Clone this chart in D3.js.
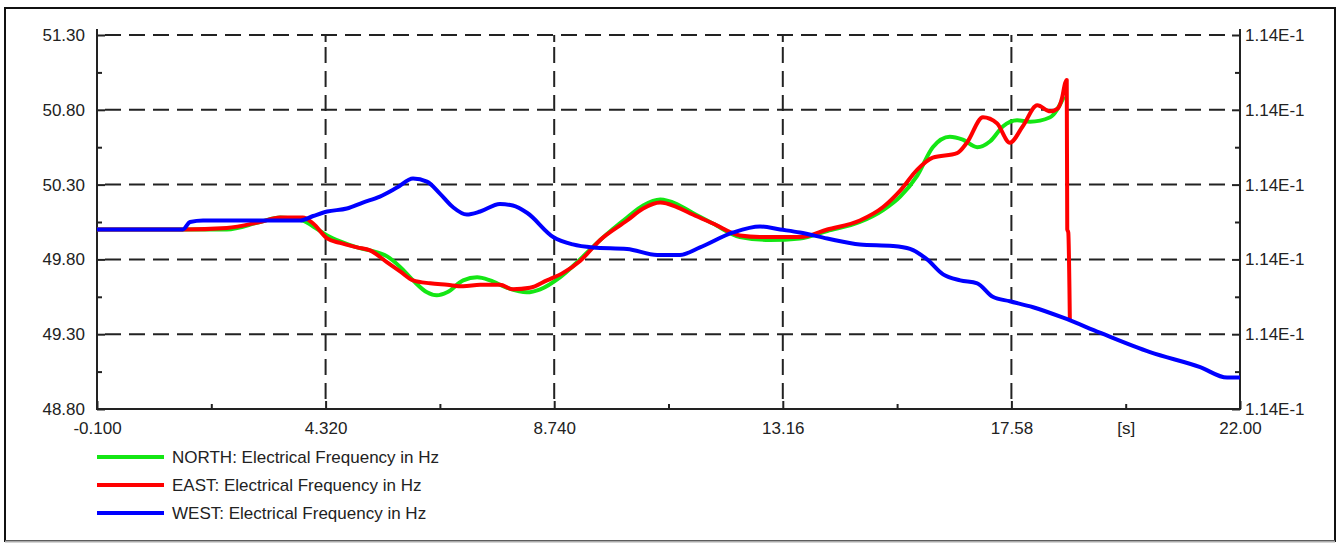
<!DOCTYPE html>
<html>
<head>
<meta charset="utf-8">
<script src="https://cdn.jsdelivr.net/npm/d3@7"></script>
<style>
  body { margin: 0; background: #fff; }
  text { font-family: "Liberation Sans", Arial, sans-serif; }
</style>
</head>
<body>
<div id="chart"></div>
<script>
// Time axis ticks (s) and their labels
const xTicks = [-0.1, 4.32, 8.74, 13.16, 17.58, 22.0];
const xTickLabels = ["-0.100", "4.320", "8.740", "13.16", "17.58", "22.00"];
const xMinor = [2.11, 6.53, 10.95, 15.37, 19.79];
const xUnit = "[s]";

// Frequency axis ticks (Hz)
const yTicks = [48.8, 49.3, 49.8, 50.3, 50.8, 51.3];
const yMinor = [49.05, 49.55, 50.05, 50.55, 51.05];
const rightLabel = "1.14E-1";

const seriesNames = [
  "NORTH: Electrical Frequency in Hz",
  "EAST: Electrical Frequency in Hz",
  "WEST: Electrical Frequency in Hz"
];
const seriesColors = ["#14e614", "#ff0000", "#0000ff"];

// NORTH
const northT = [-0.1, 1.56, 2.41, 3.05, 3.44, 3.88, 4.08, 4.35, 4.60, 4.93, 5.18, 5.51, 5.76, 6.01, 6.28, 6.47, 6.67, 6.98, 7.25, 7.50, 7.83, 8.21, 8.47, 8.85, 9.24, 9.63, 10.15, 10.46, 10.79, 11.11, 11.42, 11.81, 12.33, 12.91, 13.49, 14.02, 14.65, 15.10, 15.43, 15.76, 16.06, 16.39, 16.64, 16.92, 17.17, 17.42, 17.69, 17.94, 18.33, 18.60];
const northF = [50.00, 50.00, 50.00, 50.05, 50.08, 50.06, 50.02, 49.96, 49.92, 49.88, 49.86, 49.82, 49.75, 49.66, 49.58, 49.56, 49.58, 49.66, 49.68, 49.66, 49.61, 49.58, 49.60, 49.68, 49.80, 49.93, 50.08, 50.16, 50.20, 50.17, 50.11, 50.04, 49.95, 49.93, 49.94, 49.99, 50.05, 50.13, 50.22, 50.36, 50.55, 50.62, 50.60, 50.55, 50.59, 50.69, 50.73, 50.72, 50.75, 50.89];

// EAST
const eastT = [-0.1, 1.56, 2.41, 3.05, 3.44, 3.88, 4.08, 4.35, 4.60, 4.93, 5.18, 5.51, 5.76, 6.01, 6.34, 6.67, 6.98, 7.31, 7.69, 7.94, 8.27, 8.60, 8.91, 9.24, 9.63, 10.15, 10.46, 10.79, 11.11, 11.42, 11.81, 12.33, 12.72, 13.49, 14.02, 14.65, 15.10, 15.43, 15.76, 16.06, 16.53, 16.72, 17.03, 17.30, 17.55, 17.80, 18.08, 18.33, 18.48, 18.56, 18.62, 18.65, 18.66, 18.68, 18.71];
const eastF = [50.00, 50.00, 50.01, 50.05, 50.08, 50.08, 50.04, 49.94, 49.91, 49.88, 49.86, 49.78, 49.72, 49.66, 49.64, 49.63, 49.62, 49.63, 49.63, 49.60, 49.61, 49.66, 49.71, 49.79, 49.93, 50.06, 50.14, 50.18, 50.15, 50.10, 50.04, 49.96, 49.95, 49.95, 50.00, 50.06, 50.15, 50.26, 50.40, 50.48, 50.51, 50.58, 50.75, 50.71, 50.58, 50.69, 50.83, 50.79, 50.81, 50.88, 50.98, 51.00, 50.00, 49.98, 49.40];

// WEST
const westT = [-0.1, 1.56, 1.70, 1.95, 3.83, 4.08, 4.35, 4.73, 5.04, 5.37, 5.70, 6.01, 6.28, 6.53, 6.78, 7.05, 7.31, 7.69, 7.94, 8.22, 8.72, 9.10, 9.49, 10.15, 10.73, 11.17, 11.56, 12.20, 12.72, 13.11, 13.49, 14.02, 14.65, 15.29, 15.62, 15.95, 16.26, 16.59, 16.92, 17.22, 17.55, 18.00, 18.58, 19.29, 20.26, 21.23, 21.75, 22.00];
const westF = [50.00, 50.00, 50.05, 50.06, 50.06, 50.09, 50.12, 50.14, 50.18, 50.22, 50.28, 50.34, 50.32, 50.24, 50.15, 50.10, 50.12, 50.17, 50.16, 50.11, 49.95, 49.90, 49.88, 49.87, 49.83, 49.83, 49.88, 49.98, 50.02, 50.00, 49.98, 49.94, 49.90, 49.89, 49.87, 49.80, 49.70, 49.66, 49.64, 49.55, 49.52, 49.48, 49.41, 49.31, 49.18, 49.08, 49.01, 49.01];

const width = 1344;
const height = 543;
const plotLeft = 97, plotRight = 1240, plotTop = 35, plotBottom = 409;
const ink = "#222";

const svg = d3.select("#chart").append("svg")
    .attr("width", width)
    .attr("height", height);

// outer frame
svg.append("rect")
    .attr("x", 5).attr("y", 8)
    .attr("width", 1330).attr("height", 533)
    .attr("fill", "white")
    .attr("stroke", "#111")
    .attr("stroke-width", 2);
svg.append("line")
    .attr("x1", 5).attr("x2", 1335)
    .attr("y1", 541.5).attr("y2", 541.5)
    .attr("stroke", "#aaa").attr("stroke-width", 2);

const x = d3.scaleLinear().domain([-0.1, 22]).range([plotLeft, plotRight]);
const y = d3.scaleLinear().domain([48.8, 51.3]).range([plotBottom, plotTop]);

// dashed grid
const grid = svg.append("g")
    .attr("stroke", ink)
    .attr("stroke-width", 2)
    .attr("stroke-dasharray", "16,8");

grid.selectAll(".hg")
    .data(yTicks.filter(d => d > 48.8))
    .join("line")
    .attr("x1", plotLeft + 8).attr("x2", plotRight - 8)
    .attr("y1", d => y(d)).attr("y2", d => y(d));

grid.selectAll(".vg")
    .data(xTicks.slice(1, -1))
    .join("line")
    .attr("x1", d => x(d)).attr("x2", d => x(d))
    .attr("y1", plotTop + 12).attr("y2", plotBottom - 8);

// solid top tick stubs of the vertical grid
svg.selectAll(".topTick")
    .data(xTicks.slice(1, -1))
    .join("line")
    .attr("x1", d => x(d)).attr("x2", d => x(d))
    .attr("y1", plotTop).attr("y2", plotTop + 7)
    .attr("stroke", ink).attr("stroke-width", 2);

// axes
function styleAxis(g) {
  g.select(".domain").remove();
  g.selectAll(".tick line").attr("stroke", ink).attr("stroke-width", 2);
  g.selectAll(".tick text")
      .attr("fill", ink)
      .attr("font-size", 17)
      .attr("font-family", "'Liberation Sans', Arial, sans-serif");
}

svg.append("g")
    .attr("transform", `translate(${plotLeft},0)`)
    .call(d3.axisLeft(y).tickValues(yTicks).tickSize(-8).tickPadding(12)
      .tickFormat(d3.format(".2f")))
    .call(styleAxis);

svg.append("g")
    .attr("transform", `translate(${plotLeft},0)`)
    .call(d3.axisLeft(y).tickValues(yMinor).tickSize(-5).tickFormat(""))
    .call(styleAxis);

svg.append("g")
    .attr("transform", `translate(${plotRight},0)`)
    .call(d3.axisRight(y).tickValues(yTicks).tickSize(-8).tickPadding(5)
      .tickFormat(() => rightLabel))
    .call(styleAxis);

svg.append("g")
    .attr("transform", `translate(${plotRight},0)`)
    .call(d3.axisRight(y).tickValues(yMinor).tickSize(-5).tickFormat(""))
    .call(styleAxis);

svg.append("g")
    .attr("transform", `translate(0,${plotBottom})`)
    .call(d3.axisBottom(x).tickValues(xTicks).tickSize(-8).tickPadding(13)
      .tickFormat((d, i) => xTickLabels[i]))
    .call(styleAxis);

svg.append("g")
    .attr("transform", `translate(0,${plotBottom})`)
    .call(d3.axisBottom(x).tickValues(xMinor).tickSize(-5).tickPadding(13)
      .tickFormat((d, i) => i === xMinor.length - 1 ? xUnit : ""))
    .call(styleAxis);

// axis lines
const axisLines = svg.append("g").attr("stroke", ink).attr("stroke-width", 2);
axisLines.append("line").attr("x1", plotLeft).attr("x2", plotLeft).attr("y1", plotTop - 6).attr("y2", plotBottom + 1);
axisLines.append("line").attr("x1", plotRight).attr("x2", plotRight).attr("y1", plotTop - 6).attr("y2", plotBottom + 1);
axisLines.append("line").attr("x1", plotLeft).attr("x2", plotRight).attr("y1", plotBottom).attr("y2", plotBottom);

// series
const series = [
  northT.map((t, i) => [t, northF[i]]),
  eastT.map((t, i) => [t, eastF[i]]),
  westT.map((t, i) => [t, westF[i]])
];

const line = d3.line()
    .x(d => x(d[0]))
    .y(d => y(d[1]))
    .curve(d3.curveMonotoneX);

svg.append("g").selectAll("path")
    .data(series)
    .join("path")
    .attr("d", line)
    .attr("fill", "none")
    .attr("stroke", (d, i) => seriesColors[i])
    .attr("stroke-width", 4)
    .attr("stroke-linejoin", "round");

// legend
const legend = svg.append("g").selectAll("g")
    .data(seriesNames)
    .join("g")
    .attr("transform", (d, i) => `translate(${plotLeft},${457 + i * 28})`);

legend.append("line")
    .attr("x1", 0).attr("x2", 67)
    .attr("stroke", (d, i) => seriesColors[i])
    .attr("stroke-width", 4);

legend.append("text")
    .attr("x", 75)
    .attr("dy", "0.35em")
    .attr("font-size", 17)
    .attr("fill", ink)
    .text(d => d);
</script>
</body>
</html>
